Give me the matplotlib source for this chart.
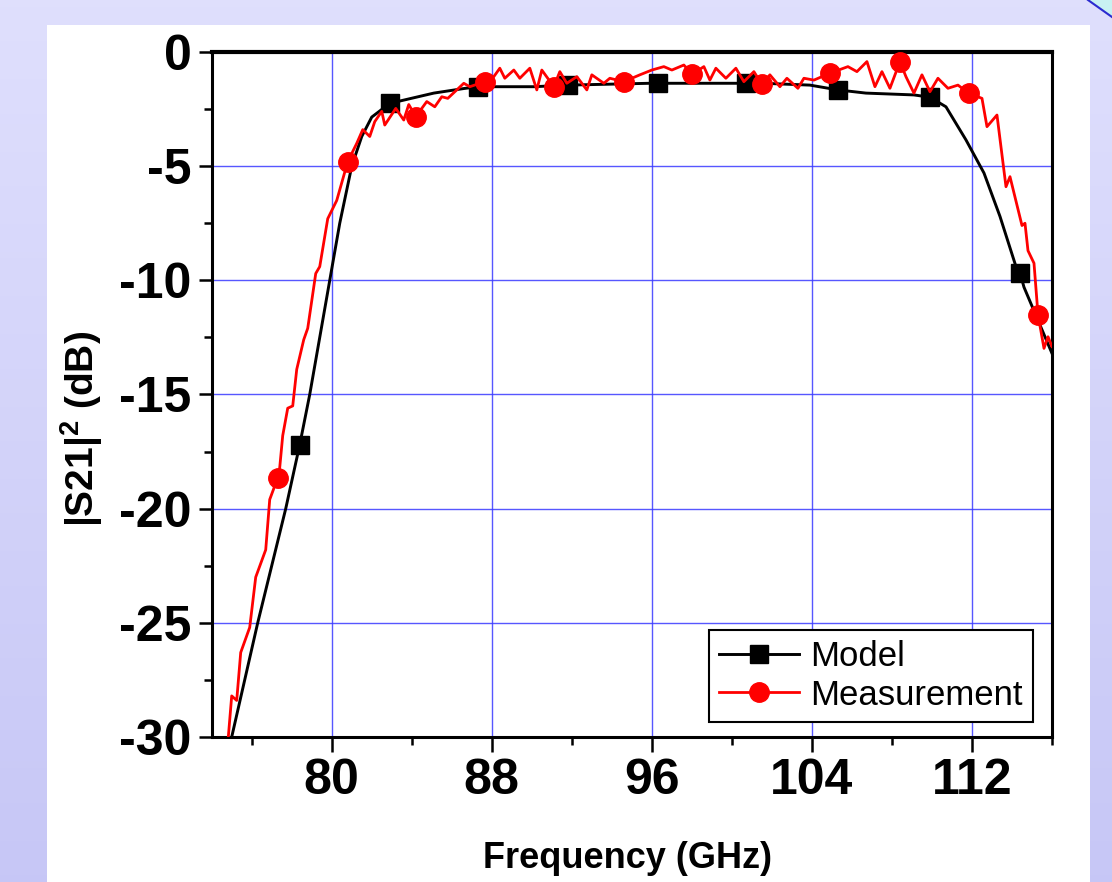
import numpy as np
import matplotlib
matplotlib.use("Agg")
import matplotlib.pyplot as plt
from matplotlib.patches import Rectangle
from matplotlib.ticker import MultipleLocator, FixedLocator

plt.rcParams['font.family'] = ['Liberation Sans', 'DejaVu Sans']
plt.rcParams['axes.unicode_minus'] = False
plt.rcParams['mathtext.fontset'] = 'custom'
plt.rcParams['mathtext.rm'] = 'Liberation Sans:bold'
plt.rcParams['mathtext.bf'] = 'Liberation Sans:bold'
plt.rcParams['mathtext.default'] = 'bf'

# ---------------- data ----------------
model_freq = [75.0, 76.3, 77.7, 78.4, 78.9, 79.9, 80.4, 81.0, 81.5, 82.0, 82.9, 85.1, 86.6,
              87.3, 90.1, 91.8, 95.9, 96.3, 100.4, 100.7, 103.9, 105.3, 106.7, 109.1,
              109.9, 110.7, 111.7, 112.6, 113.4, 114.2, 114.4, 114.6, 116.0]
model_db = [-30.0, -25.0, -20.0, -17.2, -15.0, -10.0, -7.5, -5.0, -3.7, -2.85, -2.25, -1.8, -1.6,
            -1.52, -1.52, -1.45, -1.37, -1.37, -1.37, -1.34, -1.45, -1.66, -1.8, -1.88,
            -1.98, -2.4, -3.85, -5.3, -7.2, -9.4, -9.67, -10.3, -13.2]
model_marker_freq = [78.4, 82.9, 87.3, 91.8, 96.3, 100.7, 105.3, 109.9, 114.4]

meas_freq = [74.83, 75.0, 75.25, 75.45, 75.9, 76.2, 76.7, 76.9, 77.3, 77.4, 77.55, 77.8, 78.05,
             78.25, 78.6, 78.8, 79.2, 79.4, 79.8, 80.25, 80.8, 81.25, 81.55, 81.9, 82.15,
             82.5, 82.65, 83.2, 83.6, 83.85, 84.2, 84.75, 85.15, 85.5, 85.8, 86.25, 86.6,
             86.9, 87.65, 88.1, 88.4, 88.65, 89.1, 89.4, 89.9, 90.25, 90.5, 91.1, 91.4,
             91.75, 92.25, 92.75, 93.0, 93.6, 93.9, 94.6, 95.4, 96.0, 96.6, 97.0, 97.6,
             98.0, 98.6, 98.9, 99.2, 99.7, 100.2, 100.6, 101.1, 101.5, 101.9, 102.4,
             102.75, 103.3, 103.6, 104.1, 104.9, 105.8, 106.25, 106.75, 107.15, 107.5,
             107.9, 108.4, 108.7, 109.1, 109.5, 109.9, 110.3, 110.8, 111.3, 111.85, 112.5,
             112.75, 113.25, 113.7, 113.9, 114.5, 114.65, 114.8, 115.1, 115.3, 115.6,
             115.8, 116.0]
meas_db = [-30.0, -28.2, -28.4, -26.3, -25.2, -23.0, -21.8, -19.6, -18.65, -18.2, -16.8, -15.6,
           -15.5, -13.9, -12.6, -12.1, -9.7, -9.4, -7.3, -6.5, -4.8, -4.0, -3.4, -3.7, -3.05,
           -2.6, -3.2, -2.47, -2.98, -2.3, -2.83, -2.17, -2.4, -1.96, -2.03, -1.66, -1.37,
           -1.52, -1.3, -1.08, -0.71, -1.15, -0.79, -1.15, -0.71, -1.66, -0.79, -1.52, -0.86,
           -1.37, -1.08, -1.66, -1.0, -1.37, -1.15, -1.3, -1.0, -0.79, -0.64, -0.79, -0.57,
           -0.98, -0.64, -1.23, -0.71, -1.15, -0.71, -1.3, -0.86, -1.42, -1.0, -1.52,
           -1.15, -1.59, -1.15, -1.23, -0.93, -0.64, -0.86, -0.42, -1.52, -0.86,
           -1.59, -0.42, -1.08, -1.8, -1.0, -1.74, -1.15, -1.59, -1.45, -1.81, -2.03,
           -3.27, -2.76, -5.9, -5.46, -7.6, -7.5, -8.7, -9.25, -11.5, -12.98,
           -12.47, -12.9]
meas_marker_freq = [77.3, 80.8, 84.2, 87.65, 91.1, 94.6, 98.0, 101.5, 104.9, 108.4, 111.85, 115.3]

x_major = [80, 88, 96, 104, 112]
x_minor = [76, 84, 92, 100, 108, 116]
y_major = [0, -5, -10, -15, -20, -25, -30]
labels = ["Model", "Measurement"]
xlabel = "Frequency (GHz)"
ylabel = r"|S21|$^{2}$ (dB)"

# ---------------- figure ----------------
W, H = 1112, 882
fig = plt.figure(figsize=(W / 100, H / 100), dpi=100)

# background gradient
bg = fig.add_axes([0, 0, 1, 1], zorder=-2)
c_top = np.array([0.875, 0.875, 0.992])
c_bot = np.array([0.78, 0.78, 0.965])
t = np.linspace(0, 1, 256)[:, None, None]
grad = c_top * (1 - t) + c_bot * t
grad = np.repeat(grad, 4, axis=1)
bg.imshow(grad, aspect='auto', extent=[0, W, H, 0])
bg.fill([1088, 1112, 1112], [0, 0, 17], color='#c8f2f2', lw=0)
bg.plot([1088, 1112], [0, 17], color='#2b2bd0', lw=1.5)
bg.set_xlim(0, W)
bg.set_ylim(H, 0)
bg.axis('off')

fig.patches.append(Rectangle((47 / W, 0), (1090 - 47) / W, (H - 25) / H,
                             transform=fig.transFigure, facecolor='white',
                             edgecolor='none', zorder=-1))

ax = fig.add_axes([211.7 / W, 1 - 737 / H, (1052 - 211.7) / W, (737 - 52) / H], zorder=1)
ax.set_facecolor('white')

m_idx = [model_freq.index(f) for f in model_marker_freq]
r_idx = [meas_freq.index(f) for f in meas_marker_freq]

ax.plot(model_freq, model_db, color='black', lw=2.1, marker='s', ms=13,
        markevery=m_idx, label=labels[0], zorder=3)
ax.plot(meas_freq, meas_db, color='red', lw=2.0, marker='o', ms=14,
        markevery=r_idx, label=labels[1], zorder=4)

ax.set_xlim(74, 116)
ax.set_ylim(-30, 0)
ax.xaxis.set_major_locator(FixedLocator(x_major))
ax.xaxis.set_minor_locator(FixedLocator(x_minor))
ax.yaxis.set_major_locator(FixedLocator(y_major))
ax.yaxis.set_minor_locator(MultipleLocator(2.5))

ax.grid(True, which='major', color='#3a3aff', lw=1.0, alpha=0.85, zorder=0)
ax.set_axisbelow(True)

for s in ['left', 'bottom', 'right']:
    ax.spines[s].set_linewidth(2.2)
ax.spines['top'].set_linewidth(3.0)

ax.tick_params(axis='x', which='major', direction='out', length=11, width=1.8,
               labelsize=36, pad=4)
ax.tick_params(axis='x', which='minor', direction='out', length=6, width=1.8)
ax.tick_params(axis='y', which='major', direction='out', length=9.5, width=1.8,
               labelsize=36, pad=5)
ax.tick_params(axis='y', which='minor', direction='out', length=6, width=1.8)
for lab in ax.get_xticklabels() + ax.get_yticklabels():
    lab.set_fontweight('bold')

fig.text(82 / W, 1 - 429 / H, ylabel, rotation=90, ha='center', va='center',
         fontsize=28, fontweight='bold')
fig.text(627.5 / W, 0.046, xlabel, ha='center', va='top', fontsize=26, fontweight='bold')

leg = ax.legend(loc='lower right', bbox_to_anchor=(0.977, 0.022), fontsize=25,
                frameon=True, fancybox=False, edgecolor='black', framealpha=1,
                borderpad=0.3, labelspacing=0.15, handlelength=2.3, handletextpad=0.3,
                borderaxespad=0)
leg.get_frame().set_linewidth(1.5)
leg.set_zorder(5)

fig.savefig("out.png", dpi=100)
